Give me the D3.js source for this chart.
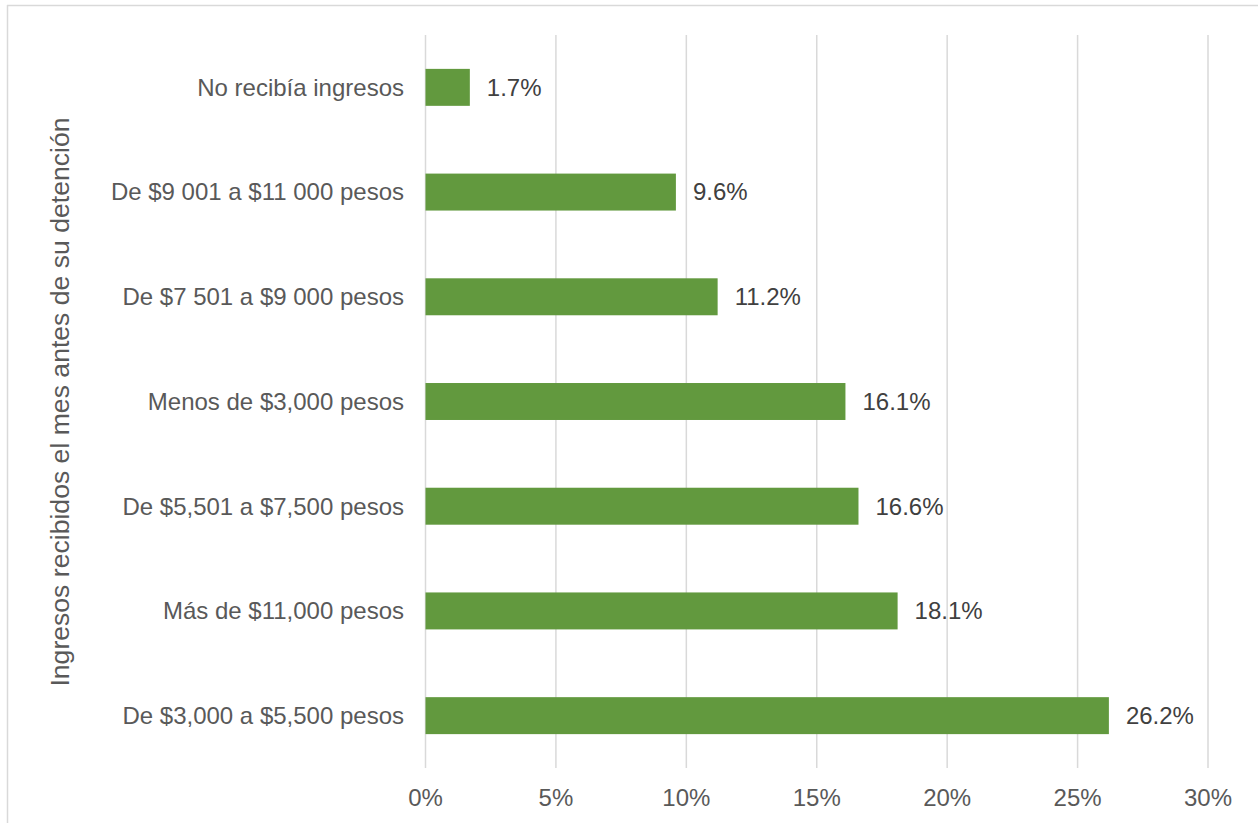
<!DOCTYPE html>
<html>
<head>
<meta charset="utf-8">
<script src="https://cdn.jsdelivr.net/npm/d3@7"></script>
<style>
  body { margin: 0; background: #fff; }
  svg { display: block; font-family: "Liberation Sans", Arial, sans-serif; }
</style>
</head>
<body>
<svg id="chart" width="1258" height="823"></svg>
<script>
// categories top to bottom, values in percent
const categories = [
  "No recibía ingresos",
  "De $9 001 a $11 000 pesos",
  "De $7 501 a $9 000 pesos",
  "Menos de $3,000 pesos",
  "De $5,501 a $7,500 pesos",
  "Más de $11,000 pesos",
  "De $3,000 a $5,500 pesos"
];
const values = [1.7, 9.6, 11.2, 16.1, 16.6, 18.1, 26.2];
const tickValues = [0, 5, 10, 15, 20, 25, 30];
const axisTitle = "Ingresos recibidos el mes antes de su detención";

const data = categories.map((c, i) => ({ cat: c, val: values[i] }));

const svg = d3.select("#chart");

// chart area border (top and left only visible)
svg.append("line").attr("x1", 7).attr("x2", 1258).attr("y1", 5.5).attr("y2", 5.5)
  .attr("stroke", "#d9d9d9").attr("stroke-width", 1.5);
svg.append("line").attr("x1", 7.5).attr("x2", 7.5).attr("y1", 5).attr("y2", 823)
  .attr("stroke", "#d9d9d9").attr("stroke-width", 1.5);

const x = d3.scaleLinear().domain([0, 30]).range([425.5, 1208]);
const y = d3.scaleBand().domain(categories).range([35, 768])
  .paddingInner(0.647).paddingOuter(0.3235);

// gridlines
svg.append("g").selectAll("line").data(tickValues).join("line")
  .attr("x1", d => x(d)).attr("x2", d => x(d))
  .attr("y1", 35).attr("y2", 768)
  .attr("stroke", "#d9d9d9").attr("stroke-width", 1.5);

// x tick labels
svg.append("g").selectAll("text").data(tickValues).join("text")
  .attr("x", d => x(d)).attr("y", 806)
  .attr("text-anchor", "middle")
  .attr("font-size", 24).attr("fill", "#595959")
  .text(d => d + "%");

// bars
svg.append("g").selectAll("rect").data(data).join("rect")
  .attr("x", x(0)).attr("y", d => y(d.cat))
  .attr("width", d => x(d.val) - x(0))
  .attr("height", y.bandwidth())
  .attr("fill", "#62993e");

// category labels
svg.append("g").selectAll("text").data(data).join("text")
  .attr("x", 404).attr("y", d => y(d.cat) + y.bandwidth() / 2)
  .attr("dy", "0.35em").attr("text-anchor", "end")
  .attr("font-size", 24).attr("fill", "#595959")
  .text(d => d.cat);

// value labels
svg.append("g").selectAll("text").data(data).join("text")
  .attr("x", d => x(d.val) + 17).attr("y", d => y(d.cat) + y.bandwidth() / 2)
  .attr("dy", "0.35em")
  .attr("font-size", 24).attr("fill", "#404040")
  .text(d => d.val.toFixed(1) + "%");

// axis title
svg.append("text")
  .attr("transform", "translate(69,402) rotate(-90)")
  .attr("text-anchor", "middle")
  .attr("font-size", 26.6).attr("fill", "#595959")
  .text(axisTitle);
</script>
</body>
</html>
